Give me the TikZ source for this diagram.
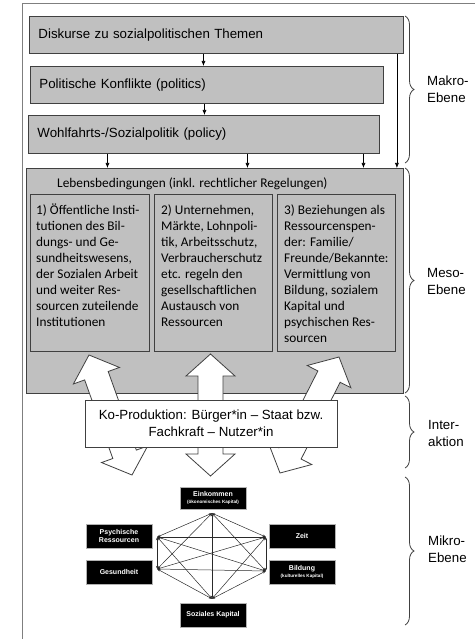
\documentclass[tikz,border=0pt]{standalone}
\usepackage{fontspec}
\setmainfont{Liberation Sans}
\newfontfamily\calfont{Carlito}
\usetikzlibrary{arrows.meta,calc,decorations.pathreplacing}

\definecolor{boxgray}{HTML}{C0C0C0}
\definecolor{edgegray}{HTML}{404040}
\definecolor{framegray}{HTML}{7F7F7F}
\definecolor{netgray}{HTML}{2A2A2A}

% small print for the capital subtitles
\newcommand\mksubfont{\fontsize{4.6}{5}\selectfont\bfseries}

% white double-headed block arrow between two named points
\newcommand\dblblock[2]{%
  \filldraw[blockarr] (#1)
    -- ($(#1)!22pt!(#2)!24.5pt!90:(#2)$)
    -- ($(#1)!22pt!(#2)!12.5pt!90:(#2)$)
    -- ($(#2)!22pt!(#1)!12.5pt!-90:(#1)$)
    -- ($(#2)!22pt!(#1)!24.5pt!-90:(#1)$)
    -- (#2)
    -- ($(#2)!22pt!(#1)!24.5pt!90:(#1)$)
    -- ($(#2)!22pt!(#1)!12.5pt!90:(#1)$)
    -- ($(#1)!22pt!(#2)!12.5pt!-90:(#2)$)
    -- ($(#1)!22pt!(#2)!24.5pt!-90:(#2)$)
    -- cycle;}

\begin{document}
\begin{tikzpicture}[x=1pt,y=-1pt,
  arialtxt/.style={font=\fontsize{13.3}{17}\selectfont},
  lvl/.style={draw=edgegray, fill=boxgray, line width=0.9pt, anchor=north west,
    inner xsep=9pt, inner ysep=0pt, align=left, arialtxt},
  subbox/.style={draw=edgegray, fill=boxgray, line width=0.9pt, anchor=north west,
    minimum width=118pt, minimum height=157pt, inner sep=0pt},
  caltxt/.style={anchor=north west, inner sep=0pt, align=left,
    font=\calfont\fontsize{13.3}{16}\selectfont},
  thinarr/.style={-{Latex[length=5pt,width=4pt]}, line width=0.6pt, black},
  blockarr/.style={draw=edgegray, fill=white, line width=0.8pt, line join=miter},
  mk/.style={fill=black, draw=gray!60, line width=0.4pt, text=white,
    minimum width=66pt, minimum height=24pt, inner sep=0pt, align=center,
    font=\fontsize{7}{8.5}\selectfont\bfseries},
  net/.style={{Stealth[length=3.2pt,width=2.4pt]}-{Stealth[length=3.2pt,width=2.4pt]},
    netgray, line width=0.5pt},
  brc/.style={decorate, decoration={brace, amplitude=9pt}, edgegray, line width=0.8pt},
  lvllabel/.style={anchor=west, align=left, inner sep=0pt, arialtxt}]

\useasboundingbox (0,0) rectangle (475,639);

% outer frame
\draw[framegray, line width=0.8pt] (22,639) -- (22,3) -- (475,3);

% macro level
\node[lvl, minimum width=374pt, minimum height=37pt, text width=356pt] (disk) at (29,16)
  {Diskurse zu sozialpolitischen Themen};
\node[lvl, minimum width=353pt, minimum height=37pt, text width=335pt] (pol) at (30,66)
  {Politische Konflikte (politics)};
\node[lvl, minimum width=351pt, minimum height=38pt, text width=333pt] (wohl) at (28,115)
  {Wohlfahrts-/Sozialpolitik (policy)};

% meso level
\node[draw=edgegray, fill=boxgray, line width=0.9pt, anchor=north west,
  minimum width=377pt, minimum height=225pt, inner sep=0pt] (meso) at (26,168) {};
\node[anchor=west, inner sep=0pt, font=\calfont\fontsize{13.3}{16}\selectfont] (lebt) at (57,184)
  {Lebensbedingungen (inkl. rechtlicher Regelungen)};

\node[subbox, minimum width=119pt] (inst) at (30,194) {};
\node[subbox] (markt) at (154,194) {};
\node[subbox] (bez) at (277,194) {};

\node[caltxt] (insttxt) at (36,203.5) {\strut 1) Öffentliche Insti-\\tutionen des Bil-\\dungs- und Ge-\\sundheitswesens,\\der Sozialen Arbeit\\und weiter Res-\\sourcen zuteilende\\Institutionen};
\node[caltxt] (markttxt) at (161,203.5) {\strut 2) Unternehmen,\\Märkte, Lohnpoli-\\tik, Arbeitsschutz,\\Verbraucherschutz\\etc. regeln den\\gesellschaftlichen\\Austausch von\\Ressourcen};
\node[caltxt] (beztxt) at (284,203.5) {\strut 3) Beziehungen als\\Ressourcenspen-\\der: Familie/\\Freunde/Bekannte:\\Vermittlung von\\Bildung, sozialem\\Kapital und\\psychischen Res-\\sourcen};

% arrows between the macro boxes and into the meso level
\draw[thinarr] ([xshift=-13pt]disk.south) -- ([xshift=-13pt]disk.south |- pol.north);
\draw[thinarr] ([xshift=-2.5pt]pol.south) -- ([xshift=-2.5pt]pol.south |- wohl.north);
\foreach \dx in {-96.5,43.5,159.5}
  \draw[thinarr] ([xshift=\dx pt]wohl.south) -- ([xshift=\dx pt]wohl.south |- meso.north);
\draw[thinarr] ([xshift=-7pt]disk.south east) -- ([xshift=-7pt]disk.south east |- meso.north);

% block arrows between meso and micro level
\coordinate (la1) at (89,355);
\coordinate (la2) at (132,475);
\coordinate (ca1) at (210.5,354);
\coordinate (ca2) at (210.5,476);
\coordinate (ra1) at (339,357);
\coordinate (ra2) at (280,473);
\dblblock{la1}{la2}
\dblblock{ca1}{ca2}
\dblblock{ra1}{ra2}

% interaction
\node[draw=edgegray, fill=white, line width=0.9pt, minimum width=252pt, minimum height=47pt,
  align=center, inner sep=0pt, arialtxt] (kopro) at (211,423.5)
  {Ko-Produktion: Bürger*in – Staat bzw.\\Fachkraft – Nutzer*in};

% micro level: resources
\node[mk, minimum height=22pt] (ein) at (213,498) {Einkommen\\[-1.5pt]{\mksubfont (ökonomisches Kapital)}};
\node[mk] (psy) at (119,536) {Psychische\\Ressourcen};
\node[mk] (zeit) at (302,536) {Zeit};
\node[mk] (ges) at (119,572) {Gesundheit};
\node[mk] (bil) at (302,572) {Bildung\\[-1.5pt]{\mksubfont (kulturelles Kapital)}};
\node[mk] (soz) at (213,615) {Soziales Kapital};

\coordinate (einP) at ($(ein.south)+(-1,4)$);
\coordinate (psyP) at ($(psy.east)+(5,1)$);
\coordinate (zeitP) at ($(zeit.west)+(-3,1)$);
\coordinate (gesP) at ($(ges.east)+(5,-3)$);
\coordinate (bilP) at ($(bil.west)+(-3,-1)$);
\coordinate (sozP) at ($(soz.north)+(-1,-4)$);

\foreach \a/\b in {einP/psyP, einP/zeitP, einP/gesP, einP/bilP, einP/sozP,
                   psyP/zeitP, psyP/gesP, psyP/bilP, psyP/sozP,
                   zeitP/gesP, zeitP/bilP, zeitP/sozP,
                   gesP/bilP, gesP/sozP, bilP/sozP}
  \draw[net] (\a) -- (\b);

% level braces
\draw[brc] (405,16) -- (405,163);
\draw[brc] (405,168) -- (405,393);
\draw[brc] (405,396) -- (405,468);
\draw[brc] (405,477) -- (405,625);
\node[lvllabel] (makro) at (427,89) {Makro-\\Ebene};
\node[lvllabel] (mesol) at (427,281) {Meso-\\Ebene};
\node[lvllabel] (inter) at (428,433) {Inter-\\aktion};
\node[lvllabel] (mikro) at (428,549) {Mikro-\\Ebene};

\end{tikzpicture}
\end{document}
